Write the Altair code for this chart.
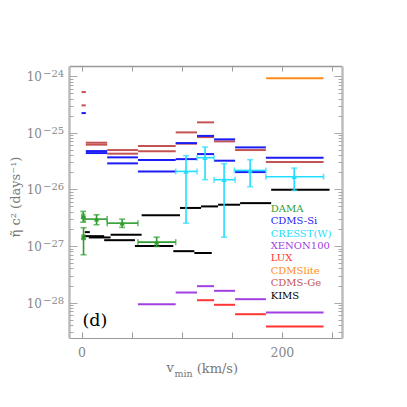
import altair as alt
import pandas as pd

FONT = "DejaVu Serif"
W, H = 273, 272
X_DOMAIN = [-12.5, 260.0]
LOG_DOMAIN = [-28.625, -23.823]

names = ["DAMA", "CDMS-Si", "CRESST(W)", "XENON100", "LUX", "CDMSlite", "CDMS-Ge", "KIMS"]
colors = ["#2f9e2f", "#1c1cf5", "#22ddff", "#a040e0", "#ff3535", "#ff8c1a", "#c45454", "#000000"]

# ---- horizontal limit segments (v_min bin low, bin high, log10 value) ----
ge_lo = [0, 0, 4.3, 4.3, 25.6, 25.6, 56.3, 56.3, 94, 94, 115.3, 115.3, 132.3, 153.3, 184]
ge_hi = [4.3, 4.3, 25.6, 25.6, 56.3, 56.3, 94, 94, 115.3, 115.3, 132.3, 132.3, 153.3, 184, 241.6]
ge_log = [-24.283, -24.518, -25.177, -25.212, -25.307, -25.371, -25.237, -25.330,
          -24.995, -25.194, -24.818, -25.078, -25.154, -25.307, -25.519]

si_lo = [0, 4.3, 4.3, 25.6, 25.6, 56.3, 56.3, 94, 94, 115.3, 115.3, 132.3, 132.3, 153.3, 153.3, 184]
si_hi = [4.3, 25.6, 25.6, 56.3, 56.3, 94, 94, 115.3, 115.3, 132.3, 132.3, 153.3, 153.3, 184, 184, 241.6]
si_log = [-24.654, -25.325, -25.360, -25.436, -25.542, -25.484, -25.684, -25.184,
          -25.467, -25.057, -25.378, -25.118, -25.495, -25.260, -25.696, -25.442]

xe_lo = [56.3, 94, 115.3, 132.3, 153.3, 184]
xe_hi = [94, 115.3, 132.3, 153.3, 184, 241.6]
xe_log = [-28.028, -27.822, -27.710, -27.792, -27.940, -28.175]

lux_lo = [115.3, 132.3, 153.3, 184]
lux_hi = [132.3, 153.3, 184, 241.6]
lux_log = [-27.958, -28.039, -28.205, -28.422]

lite_lo = [184.3]
lite_hi = [241.6]
lite_log = [-24.041]

kims_lo = [3.3, 7.3, 29, 60, 98.3, 119.3, 136.3, 158.3, 189.3, 1, 22.6, 53.3, 91.6, 112.6]
kims_hi = [8.3, 29, 60, 98.3, 119.3, 136.3, 158.3, 189.3, 247.6, 22.6, 53.3, 91.6, 112.6, 130]
kims_log = [-26.756, -26.850, -26.802, -26.456, -26.329, -26.302, -26.272, -26.244, -26.007,
            -26.827, -26.898, -27.000, -27.092, -27.124]

# ---- data points with error bars ----
dama_v = [1.7, 15, 40.6, 2.0, 75]
dama_vlo = [0.2, 3.3, 25.6, 0.5, 56.3]
dama_vhi = [3.2, 25.6, 56.3, 3.5, 94]
dama_log = [-26.479, -26.526, -26.597, -26.845, -26.933]
dama_loglo = [-26.580, -26.625, -26.673, -27.155, -27.009]
dama_loghi = [-26.390, -26.449, -26.527, -26.678, -26.845]

cr_v = [104.3, 123.3, 142.3, 168.3, 212.3]
cr_vlo = [94, 115.3, 132.3, 152.6, 184]
cr_vhi = [115.3, 132.3, 153.3, 184, 241.6]
cr_log = [-25.684, -25.442, -25.830, -25.666, -25.778]
cr_loglo = [-26.597, -25.830, -26.845, -25.954, -26.019]
cr_loghi = [-25.406, -25.254, -25.548, -25.477, -25.625]

x_major = [0, 50, 100, 150, 200, 250]
x_labels = [0, 200]
y_decades = [-28, -27, -26, -25, -24]

# ---------------------------------------------------------------
rows = []
for nm, lo, hi, lg in [("CDMS-Ge", ge_lo, ge_hi, ge_log), ("CDMS-Si", si_lo, si_hi, si_log),
                       ("XENON100", xe_lo, xe_hi, xe_log), ("LUX", lux_lo, lux_hi, lux_log),
                       ("CDMSlite", lite_lo, lite_hi, lite_log), ("KIMS", kims_lo, kims_hi, kims_log)]:
    for a, b, c in zip(lo, hi, lg):
        rows.append(dict(exp=nm, lo=a, hi=b, val=10.0 ** c))
seg_df = pd.DataFrame(rows)

prow = []
for nm, v, vlo, vhi, lg, lglo, lghi in [("CRESST(W)", cr_v, cr_vlo, cr_vhi, cr_log, cr_loglo, cr_loghi),
                                        ("DAMA", dama_v, dama_vlo, dama_vhi, dama_log, dama_loglo, dama_loghi)]:
    for i in range(len(v)):
        prow.append(dict(exp=nm, v=v[i], vlo=vlo[i], vhi=vhi[i], val=10.0 ** lg[i],
                         lo=10.0 ** lglo[i], hi=10.0 ** lghi[i]))
pts_df = pd.DataFrame(prow)

xs = alt.Scale(domain=X_DOMAIN, nice=False, zero=False)
ys = alt.Scale(type="log", domain=[10.0 ** LOG_DOMAIN[0], 10.0 ** LOG_DOMAIN[1]], nice=False)
col = alt.Color("exp:N", scale=alt.Scale(domain=names, range=colors), legend=None)


def X(f):
    return alt.X(f, type="quantitative", scale=xs, axis=None)


def Y(f):
    return alt.Y(f, type="quantitative", scale=ys, axis=None)


layers = []

# axes (frames and inward ticks)
y_minor = []
for e in range(-29, -24):
    for k in range(2, 10):
        val = k * 10.0 ** e
        if 10.0 ** LOG_DOMAIN[0] < val < 10.0 ** LOG_DOMAIN[1]:
            y_minor.append(val)
y_major = [10.0 ** e for e in y_decades]

ax_df = pd.DataFrame({"x": [0.0], "y": [1e-26]})
common = dict(grid=False, title=None)


def ax_layer(xaxis=None, yaxis=None):
    return alt.Chart(ax_df).mark_point(opacity=0).encode(
        x=alt.X("x:Q", scale=xs, axis=xaxis), y=alt.Y("y:Q", scale=ys, axis=yaxis))


layers.append(ax_layer(xaxis=alt.Axis(orient="bottom", values=x_labels, ticks=False, labelFont=FONT,
                                      labelFontSize=12.5, labelColor="#888888", labelPadding=8,
                                      domainColor="#9a9a9a", domainWidth=1, **common)))
layers.append(ax_layer(xaxis=alt.Axis(orient="top", offset=-H, values=x_major, tickSize=6, labels=False,
                                      domain=False, tickColor="#9a9a9a", **common)))
layers.append(ax_layer(xaxis=alt.Axis(orient="bottom", offset=-H, values=x_major, tickSize=5, labels=False,
                                      domainColor="#9a9a9a", domainWidth=1.3, tickColor="#9a9a9a", **common)))
layers.append(ax_layer(yaxis=alt.Axis(orient="left", ticks=False, labels=False, domainColor="#bdbdbd",
                                      domainWidth=2.5, **common)))
layers.append(ax_layer(yaxis=alt.Axis(orient="right", offset=-W, values=y_major, tickSize=8, labels=False,
                                      domain=False, tickColor="#a8a8a8", **common)))
layers.append(ax_layer(yaxis=alt.Axis(orient="right", offset=-W, values=y_minor, tickSize=4, labels=False,
                                      domain=False, tickColor="#a8a8a8", **common)))
layers.append(ax_layer(yaxis=alt.Axis(orient="left", offset=-W, values=y_major, tickSize=8, labels=False,
                                      domainColor="#bdbdbd", domainWidth=2.5, tickColor="#a8a8a8", **common)))
layers.append(ax_layer(yaxis=alt.Axis(orient="left", offset=-W, values=y_minor, tickSize=4, labels=False,
                                      domain=False, tickColor="#a8a8a8", **common)))

# y tick labels 10^n
ylab_df = pd.DataFrame({"val": y_major, "base": ["10"] * len(y_decades),
                        "exp": ["\u2212" + str(-e) for e in y_decades]})
layers.append(alt.Chart(ylab_df).mark_text(align="right", baseline="middle", font=FONT, fontSize=12,
                                           color="#888888", dy=1).encode(
    x=alt.value(-27), y=Y("val"), text="base:N"))
layers.append(alt.Chart(ylab_df).mark_text(align="left", baseline="middle", font=FONT, fontSize=10,
                                           color="#888888", dy=-2).encode(
    x=alt.value(-26), y=Y("val"), text="exp:N"))

# segments
layers.append(alt.Chart(seg_df).mark_rule(strokeWidth=2).encode(x=X("lo"), x2="hi", y=Y("val"), color=col))

# error bars and points
base = alt.Chart(pts_df)
layers.append(base.mark_rule(strokeWidth=1.6).encode(x=X("v"), y=Y("lo"), y2="hi", color=col))
layers.append(base.mark_rule(strokeWidth=1.6).encode(x=X("vlo"), x2="vhi", y=Y("val"), color=col))
for f in ["lo", "hi"]:
    layers.append(base.mark_tick(orient="horizontal", size=6, thickness=1.6).encode(x=X("v"), y=Y(f), color=col))
for f in ["vlo", "vhi"]:
    layers.append(base.mark_tick(orient="vertical", size=6, thickness=1.6).encode(x=X(f), y=Y("val"), color=col))
layers.append(base.mark_point(shape="triangle-up", filled=True, size=28, opacity=1).encode(
    x=X("v"), y=Y("val"), color=col))

# legend text
for i, (nm, c) in enumerate(zip(names, colors)):
    layers.append(alt.Chart(pd.DataFrame({"t": [nm]})).mark_text(
        align="left", baseline="middle", font=FONT, fontSize=10, color=c).encode(
        x=alt.value(201.7), y=alt.value(142.6 + 12.45 * i), text="t:N"))

# panel label
layers.append(alt.Chart(pd.DataFrame({"t": ["(d)"]})).mark_text(
    align="left", baseline="middle", font=FONT, fontSize=17.5, color="#000000").encode(
    x=alt.value(13.5), y=alt.value(254.5), text="t:N"))

# axis titles
layers.append(alt.Chart(pd.DataFrame({"t": ["v"]})).mark_text(
    align="left", baseline="alphabetic", font=FONT, fontSize=13, color="#777777").encode(
    x=alt.value(97.5), y=alt.value(305.5), text="t:N"))
layers.append(alt.Chart(pd.DataFrame({"t": ["min"]})).mark_text(
    align="left", baseline="alphabetic", font=FONT, fontSize=9.5, color="#777777").encode(
    x=alt.value(105.5), y=alt.value(311), text="t:N"))
layers.append(alt.Chart(pd.DataFrame({"t": ["(km/s)"]})).mark_text(
    align="left", baseline="alphabetic", font=FONT, fontSize=13, color="#777777").encode(
    x=alt.value(127.7), y=alt.value(306.5), text="t:N"))
layers.append(alt.Chart(pd.DataFrame({"t": ["\u03b7\u0303 c\u00b2 (days\u207b\u00b9)"]})).mark_text(
    align="center", baseline="middle", font=FONT, fontSize=13, color="#777777", angle=270).encode(
    x=alt.value(-53), y=alt.value(131), text="t:N"))

chart = alt.layer(*layers).resolve_axis(x="independent", y="independent").properties(
    width=W, height=H, autosize=alt.AutoSizeParams(type="none"),
    padding={"left": 61, "top": 58, "right": 40, "bottom": 40}
).configure_view(stroke=None)

chart.save("out.html", embed_options={"renderer": "svg", "actions": False})
